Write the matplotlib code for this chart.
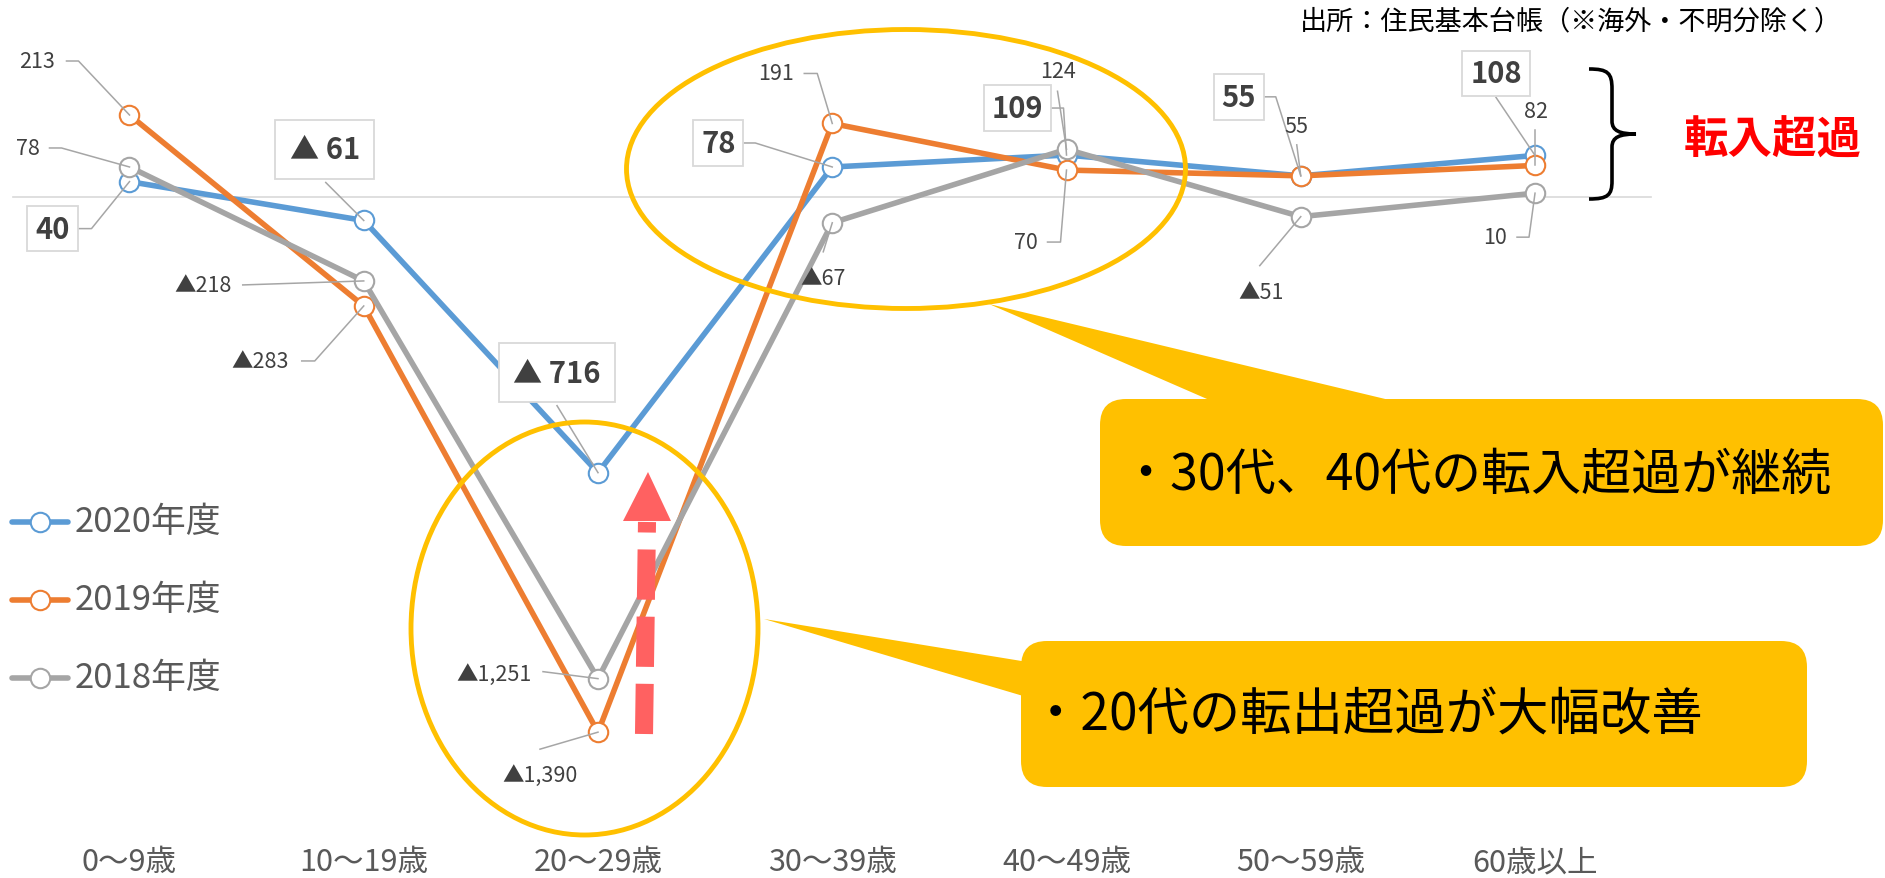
import matplotlib
matplotlib.use("Agg")
import matplotlib.pyplot as plt
from matplotlib.patches import Ellipse, FancyBboxPatch, Polygon, PathPatch
from matplotlib.path import Path
from matplotlib.transforms import Affine2D, blended_transform_factory

plt.rcParams['font.family'] = ['Noto Sans CJK JP', 'DejaVu Sans']

# data (net migration by age group, ▲ = negative)
ages = ["0～9歳", "10～19歳", "20～29歳", "30～39歳", "40～49歳", "50～59歳", "60歳以上"]
years = ["2020年度", "2019年度", "2018年度"]
net_2020 = [40, -61, -716, 78, 109, 55, 108]
net_2019 = [213, -283, -1390, 191, 70, 55, 82]
net_2018 = [78, -218, -1251, -67, 124, -51, 10]

source_text = "出所：住民基本台帳（※海外・不明分除く）"
note_in = "転入超過"
callout_top = "・30代、40代の転入超過が継続"
callout_bottom = "・20代の転出超過が大幅改善"

colors = ["#5B9BD5", "#ED7D31", "#A5A5A5"]

# label layout: (text dx, text dy, leader vertices) in pixels from the point, dy downwards
layout_2020 = [(-77, 47, [(-51, 47), (-38, 47)]),
               (-39, -71, [(-38, -38)]),
               (-41, -100, [(-41, -67)]),
               (-114, -24, [(-88, -24), (-77, -24)]),
               (-49, -47, [(-16, -47), (-3, -47)]),
               (-62, -79, [(-36, -79), (-25, -79)]),
               (-39, -82, [(-39, -58)])]
layout_2019 = [(-92, -54, [(-63, -54), (-51, -54)]),
               (-104, 55, [(-62, 55), (-49, 55)]),
               (-58, 43, [(-58, 17)]),
               (-56, -50, [(-28, -50), (-15, -50)]),
               (-41, 72, [(-19, 72), (-6, 72)]),
               (-4, -50, [(-4, -31)]),
               (1, -54, [(0, -35)])]
layout_2018 = [(-102, -19, [(-80, -19), (-68, -19)]),
               (-161, 4, [(-121, 4)]),
               (-104, -5, [(-55, -7)]),
               (-9, 55, [(-9, 29)]),
               (-9, -78, [(-9, -58)]),
               (-40, 75, [(-41, 49)]),
               (-40, 44, [(-18, 44), (-6, 44)])]


def fmt(v, boxed):
    s = f"{abs(v):,}"
    if v < 0:
        return ("▲ " if boxed else "▲") + s
    return s


W, H = 1885, 879
fig = plt.figure(figsize=(W / 100, H / 100), dpi=100)
ax = fig.add_axes([0, 0, 1, 1])
ax.set_xlim(-0.5528, 7.494)
ax.set_ylim(-1768.8, 514.3)
ax.axis('off')

# pixel coordinates measured from the top-left corner
pix = Affine2D().scale(1 / W, -1 / H).translate(0, 1) + ax.transAxes

ax.axhline(0, xmin=13 / W, xmax=1651 / W, color="#D9D9D9", lw=1.2, zorder=1)

x = list(range(len(ages)))
series = [net_2020, net_2019, net_2018]
layouts = [layout_2020, layout_2019, layout_2018]
for k, vals in enumerate(series):
    ax.plot(x, vals, color=colors[k], lw=4.0, marker='o', ms=14, mfc='white',
            mec=colors[k], mew=1.5, zorder=2 + k * 0.1, solid_capstyle='round')

to_pix = pix.inverted()
for k, vals in enumerate(series):
    boxed = (k == 0)
    for i, v in enumerate(vals):
        tx, ty, leader = layouts[k][i]
        px, py = to_pix.transform(ax.transData.transform((i, v)))
        pts = [(px + dx, py + dy) for dx, dy in leader] + [(px, py)]
        ax.plot([p[0] for p in pts], [p[1] for p in pts], color="#A6A6A6", lw=1.1,
                transform=pix, zorder=3)
        if boxed:
            pad = 0.5 if v < 0 else 0.27
            ax.annotate(fmt(v, True), xy=(i, v), xytext=(tx, -ty), textcoords='offset pixels',
                        ha='center', va='center', fontsize=21, fontweight='bold', color="#404040",
                        bbox=dict(boxstyle=f'square,pad={pad}', fc='white', ec='#D9D9D9', lw=1.3),
                        zorder=4)
        else:
            ax.annotate(fmt(v, False), xy=(i, v), xytext=(tx, -ty), textcoords='offset pixels',
                        ha='center', va='center', fontsize=15.5, color="#404040", zorder=4)

# category labels
xtrans = blended_transform_factory(ax.transData, pix)
for i, a in enumerate(ages):
    ax.text(i, 863, a, transform=xtrans, ha='center', va='center', fontsize=22, color="#595959")

# legend
for k, name in enumerate(years):
    yy = 523 + 78 * k
    ax.plot([12, 68], [yy, yy], color=colors[k], lw=4.0, transform=pix, zorder=2,
            solid_capstyle='round')
    ax.plot([40], [yy], marker='o', ms=14, mfc='white', mec=colors[k], mew=1.5,
            transform=pix, zorder=3)
    ax.text(75, yy, name, transform=pix, ha='left', va='center', fontsize=25, color="#595959")

# highlight ellipses
ax.add_patch(Ellipse((906, 170), 559, 279, transform=pix, fill=False, ec="#FFC000", lw=3.5, zorder=5))
ax.add_patch(Ellipse((584.5, 629.5), 347, 413, transform=pix, fill=False, ec="#FFC000", lw=3.5, zorder=5))

# callouts
ax.add_patch(Polygon([(989, 305), (1230, 410), (1427, 410)], closed=True, transform=pix,
                     fc="#FFC000", ec='none', zorder=6))
ax.add_patch(FancyBboxPatch((1100, 400), 783, 147, boxstyle='round,pad=0,rounding_size=26',
                            transform=pix, fc="#FFC000", ec='none', zorder=6))
ax.text(1120, 476, callout_top, transform=pix, ha='left', va='center', fontsize=36,
        color='black', zorder=7)

ax.add_patch(Polygon([(764, 620), (1040, 665), (1040, 702)], closed=True, transform=pix,
                     fc="#FFC000", ec='none', zorder=6))
ax.add_patch(FancyBboxPatch((1021, 642), 786, 146, boxstyle='round,pad=0,rounding_size=26',
                            transform=pix, fc="#FFC000", ec='none', zorder=6))
ax.text(1030, 716, callout_bottom, transform=pix, ha='left', va='center', fontsize=37,
        color='black', zorder=7)

# red dashed improvement arrow
ax.plot([644, 647], [735, 523], color="#FF6161", lw=13, transform=pix, zorder=6,
        linestyle=(0, (2.78, 0.94)), solid_capstyle='butt', dash_capstyle='butt')
ax.add_patch(Polygon([(648, 473), (623, 522), (671, 522)], closed=True, transform=pix,
                     fc="#FF6161", ec='none', zorder=6))

# brace and label
brace = Path([(1589, 70), (1608, 70), (1612, 74), (1612, 90),
              (1612, 122),
              (1612, 132), (1620, 135), (1636, 135),
              (1620, 135), (1612, 138), (1612, 148),
              (1612, 182),
              (1612, 196), (1608, 200), (1589, 200)],
             [Path.MOVETO, Path.CURVE4, Path.CURVE4, Path.CURVE4,
              Path.LINETO,
              Path.CURVE4, Path.CURVE4, Path.CURVE4,
              Path.CURVE4, Path.CURVE4, Path.CURVE4,
              Path.LINETO,
              Path.CURVE4, Path.CURVE4, Path.CURVE4])
ax.add_patch(PathPatch(brace, transform=pix, fill=False, ec='black', lw=2.6, zorder=5))
ax.text(1773, 141, note_in, transform=pix, ha='center', va='center', fontsize=32,
        fontweight='bold', color='#FF0000')

ax.text(1842, 22, source_text, transform=pix, ha='right', va='center', fontsize=19.5, color='black')

fig.savefig("out.png", dpi=100)
